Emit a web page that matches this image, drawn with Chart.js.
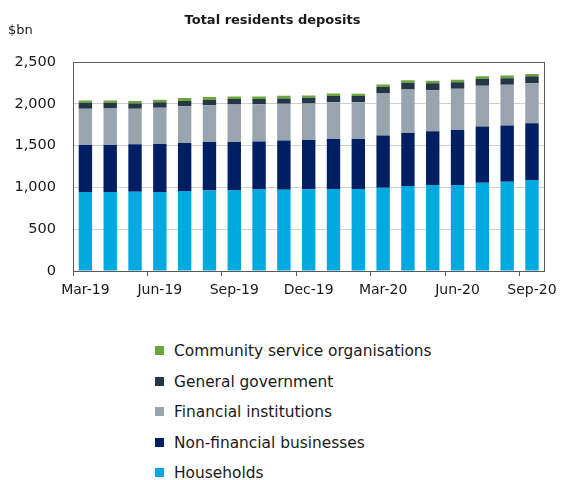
<!DOCTYPE html>
<html>
<head>
<meta charset="utf-8">
<script src="https://cdn.jsdelivr.net/npm/chart.js@4/dist/chart.umd.min.js"></script>
<style>
  html, body { margin: 0; padding: 0; background: #ffffff; }
  body { width: 563px; height: 480px; position: relative; overflow: hidden; font-family: "DejaVu Sans", sans-serif; }
  #wrap { position: absolute; left: 0; top: 0; width: 563px; height: 310px; }
  #legend { position: absolute; left: 155px; top: 339px; margin: 0; padding: 0; list-style: none; }
  #legend li { height: 30.5px; line-height: 24px; font-size: 15.4px; color: #1a1a1a; white-space: nowrap; }
  #legend .sw { display: inline-block; width: 9px; height: 9px; margin-right: 10px; vertical-align: 1px; }
</style>
</head>
<body>
<div id="wrap"><canvas id="chart"></canvas></div>
<ul id="legend"></ul>
<script>
// Monthly deposits by resident sector, $bn
const months = ['Mar-19','Apr-19','May-19','Jun-19','Jul-19','Aug-19','Sep-19','Oct-19','Nov-19','Dec-19',
                'Jan-20','Feb-20','Mar-20','Apr-20','May-20','Jun-20','Jul-20','Aug-20','Sep-20'];
const households    = [945, 944, 948, 944, 956, 964, 968, 976, 972, 978, 980, 980, 996, 1016, 1028, 1028, 1056, 1068, 1088];
const nonFinancial  = [563, 564, 568, 576, 576, 580, 576, 572, 588, 590, 600, 600, 624, 636, 643, 659, 671, 671, 679];
const financialInst = [432, 436, 424, 432, 440, 440, 448, 448, 440, 436, 440, 440, 504, 519, 492, 492, 488, 488, 480];
const generalGovt   = [72, 68, 64, 68, 60, 60, 64, 60, 64, 68, 72, 72, 76, 80, 84, 80, 84, 80, 84];
const communitySvc  = [28, 28, 28, 28, 36, 36, 32, 32, 32, 28, 32, 28, 31, 32, 28, 28, 32, 32, 24];
const yTicks = [0, 500, 1000, 1500, 2000, 2500];

const chartTitle = 'Total residents deposits';
const unitLabel = '$bn';
const axisColor = '#595959';
const textColor = '#1a1a1a';

// Title, unit label and the box round the plot area
const framePlugin = {
  id: 'frame',
  afterDraw(chart) {
    const { ctx, chartArea: a } = chart;
    ctx.save();
    ctx.strokeStyle = axisColor;
    ctx.lineWidth = 1;
    ctx.strokeRect(Math.round(a.left) + 0.5, Math.round(a.top) + 0.5,
                   Math.round(a.right - a.left), Math.round(a.bottom - a.top));
    ctx.fillStyle = textColor;
    ctx.textBaseline = 'middle';
    ctx.font = 'bold 13px "DejaVu Sans", sans-serif';
    ctx.textAlign = 'center';
    ctx.fillText(chartTitle, chart.width / 2 - 9, 21);
    ctx.font = '13px "DejaVu Sans", sans-serif';
    ctx.textAlign = 'left';
    ctx.fillText(unitLabel, 8, 31);
    ctx.restore();
  }
};

const chart = new Chart(document.getElementById('chart'), {
  type: 'bar',
  data: {
    labels: months,
    datasets: [
      { label: 'Households', data: households, backgroundColor: '#00a9e0' },
      { label: 'Non-financial businesses', data: nonFinancial, backgroundColor: '#001f63' },
      { label: 'Financial institutions', data: financialInst, backgroundColor: '#98a4ae' },
      { label: 'General government', data: generalGovt, backgroundColor: '#253746' },
      { label: 'Community service organisations', data: communitySvc, backgroundColor: '#6aa63c' }
    ]
  },
  options: {
    responsive: true,
    maintainAspectRatio: false,
    animation: false,
    layout: { padding: { top: 62, right: 15, left: 0, bottom: 0 } },
    datasets: { bar: { categoryPercentage: 1, barPercentage: 0.54, borderWidth: 0 } },
    plugins: {
      legend: { display: false },
      title: { display: false },
      tooltip: { enabled: false }
    },
    scales: {
      x: {
        stacked: true,
        afterFit(scale) { scale.height = 39; },
        grid: {
          offset: true,
          drawOnChartArea: false,
          drawTicks: true,
          tickLength: 5,
          color: (c) => (c.type === 'tick' && c.index % 3 === 0) ? axisColor : 'rgba(0,0,0,0)'
        },
        border: { display: true, color: axisColor, width: 1 },
        ticks: {
          autoSkip: false,
          maxRotation: 0,
          padding: 6,
          color: textColor,
          font: { family: '"DejaVu Sans", sans-serif', size: 14 },
          callback: (v, i) => (i % 3 === 0 ? months[i] : '')
        }
      },
      y: {
        stacked: true,
        min: yTicks[0],
        max: yTicks[yTicks.length - 1],
        afterFit(scale) { scale.width = 73; },
        afterBuildTicks(scale) { scale.ticks = yTicks.map(v => ({ value: v })); },
        grid: { drawTicks: false, color: (c) => c.tick && c.tick.value === 0 ? axisColor : '#d0d0d0', lineWidth: 1 },
        border: { display: true, color: axisColor, width: 1 },
        ticks: {
          padding: 17,
          color: textColor,
          font: { family: '"DejaVu Sans", sans-serif', size: 14.5 },
          callback: (v) => v.toLocaleString('en-US')
        }
      }
    }
  },
  plugins: [framePlugin]
});

// Legend listed top-down in stack order (top segment first)
const legendEl = document.getElementById('legend');
chart.data.datasets.slice().reverse().forEach(ds => {
  const li = document.createElement('li');
  const sw = document.createElement('span');
  sw.className = 'sw';
  sw.style.background = ds.backgroundColor;
  li.appendChild(sw);
  li.appendChild(document.createTextNode(ds.label));
  legendEl.appendChild(li);
});
</script>
</body>
</html>
